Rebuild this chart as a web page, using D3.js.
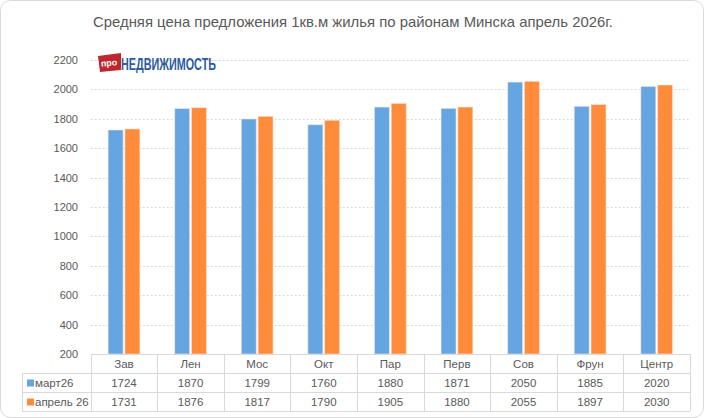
<!DOCTYPE html>
<html><head><meta charset="utf-8">
<script src="https://cdn.jsdelivr.net/npm/d3@7"></script>
<style>
body{margin:0;background:#fff;}
svg{display:block;font-family:"Liberation Sans",Arial,sans-serif;}
</style></head><body>
<svg id="c" width="704" height="418"></svg>
<script>
const categories = ["Зав","Лен","Мос","Окт","Пар","Перв","Сов","Фрун","Центр"];
const seriesNames = ["март26","апрель 26"];
const march = [1724,1870,1799,1760,1880,1871,2050,1885,2020];
const april = [1731,1876,1817,1790,1905,1880,2055,1897,2030];
const yTicks = [200,400,600,800,1000,1200,1400,1600,1800,2000,2200];
const title = "Средняя цена предложения 1кв.м жилья по районам Минска апрель 2026г.";
const colors = ["#64a5e2","#ff8b3b"];
const series = [march, april];

const svg = d3.select("#c");
const L = 90.7, R = 690, T = 60, B = 354;
svg.append("rect").attr("x",0.5).attr("y",0.5).attr("width",703).attr("height",417)
  .attr("rx",10).attr("fill","#fff").attr("stroke","#d9d9d9");

svg.append("text").attr("x",93).attr("y",26.5)
  .attr("font-size",14.5).attr("fill","#595959")
  .attr("textLength",520).attr("lengthAdjust","spacingAndGlyphs").text(title);

const x = d3.scaleBand().domain(categories).range([L,R]);
const y = d3.scaleLinear().domain([200,2200]).range([B,T]);

// gridlines
svg.append("g").selectAll("line").data(yTicks.slice(1)).join("line")
  .attr("x1",L).attr("x2",R).attr("y1",d=>Math.round(y(d))+0.5).attr("y2",d=>Math.round(y(d))+0.5)
  .attr("stroke","#d9d9d9").attr("stroke-dasharray","2,2");

// y axis labels
const ya = svg.append("g").attr("transform",`translate(78,0)`)
  .call(d3.axisLeft(y).tickValues(yTicks).tickFormat(d3.format("d")).tickSize(0).tickPadding(0));
ya.select(".domain").remove();
ya.selectAll("text").attr("font-size",11).attr("fill","#595959").attr("font-family","Liberation Sans, Arial, sans-serif");

// bars
const bw = 15, gap = 1.8;
series.forEach((s,i)=>{
  svg.append("g").selectAll("rect").data(s).join("rect")
    .attr("x",(d,j)=> x(categories[j]) + x.bandwidth()/2 + (i===0 ? -gap/2-bw : gap/2))
    .attr("y",d=>y(d)).attr("width",bw).attr("height",d=>B-y(d))
    .attr("fill",colors[i]).attr("stroke","#fbe9dc").attr("stroke-opacity",0.6).attr("stroke-width",1);
});

// data table
const rowH = 19, legL = 22;
const tg = svg.append("g");
const rows = [B, B+rowH, B+2*rowH, B+3*rowH];
const tc = "#d9d9d9";
tg.append("line").attr("x1",L).attr("x2",R).attr("y1",rows[0]+0.5).attr("y2",rows[0]+0.5).attr("stroke",tc);
[1,2,3].forEach(k=>tg.append("line").attr("x1",legL).attr("x2",R).attr("y1",rows[k]+0.5).attr("y2",rows[k]+0.5).attr("stroke",tc));
categories.forEach(c=>tg.append("line").attr("x1",Math.round(x(c))+0.5).attr("x2",Math.round(x(c))+0.5).attr("y1",rows[0]).attr("y2",rows[3]).attr("stroke",tc));
tg.append("line").attr("x1",R+0.5).attr("x2",R+0.5).attr("y1",rows[0]).attr("y2",rows[3]).attr("stroke",tc);
tg.append("line").attr("x1",legL+0.5).attr("x2",legL+0.5).attr("y1",rows[1]).attr("y2",rows[3]).attr("stroke",tc);

tg.selectAll("text.cat").data(categories).join("text").attr("class","cat")
  .attr("x",d=>x(d)+x.bandwidth()/2).attr("y",rows[0]+14).attr("text-anchor","middle")
  .attr("font-size",11.5).attr("fill","#595959").text(d=>d);
series.forEach((s,i)=>{
  tg.selectAll("text.v"+i).data(s).join("text").attr("class","v"+i)
    .attr("x",(d,j)=>x(categories[j])+x.bandwidth()/2).attr("y",rows[i+1]+14).attr("text-anchor","middle")
    .attr("font-size",11.5).attr("fill","#595959").text(d=>d);
  tg.append("rect").attr("x",27).attr("y",rows[i+1]+6.5).attr("width",7).attr("height",7).attr("fill",colors[i]);
  tg.append("text").attr("x",35).attr("y",rows[i+1]+14).attr("font-size",11.5).attr("fill","#595959").text(seriesNames[i]);
});

// logo
const lg = svg.append("g");
lg.append("path").attr("d","M98,56 L121,53 L121,70 L100,72 Z").attr("fill","#c0262d");
lg.append("text").attr("x",109).attr("y",66).attr("text-anchor","middle").attr("font-size",9)
  .attr("fill","#fff").attr("font-weight","bold").attr("transform","rotate(-6,109,63)").text("про");
lg.append("text").attr("x",121).attr("y",69.5).attr("font-size",17).attr("font-weight","bold")
  .attr("font-family","Liberation Sans Narrow, Arial Narrow, sans-serif")
  .attr("textLength",95).attr("lengthAdjust","spacingAndGlyphs").attr("fill","#2b5c9b").text("НЕДВИЖИМОСТЬ");
</script>
</body></html>
